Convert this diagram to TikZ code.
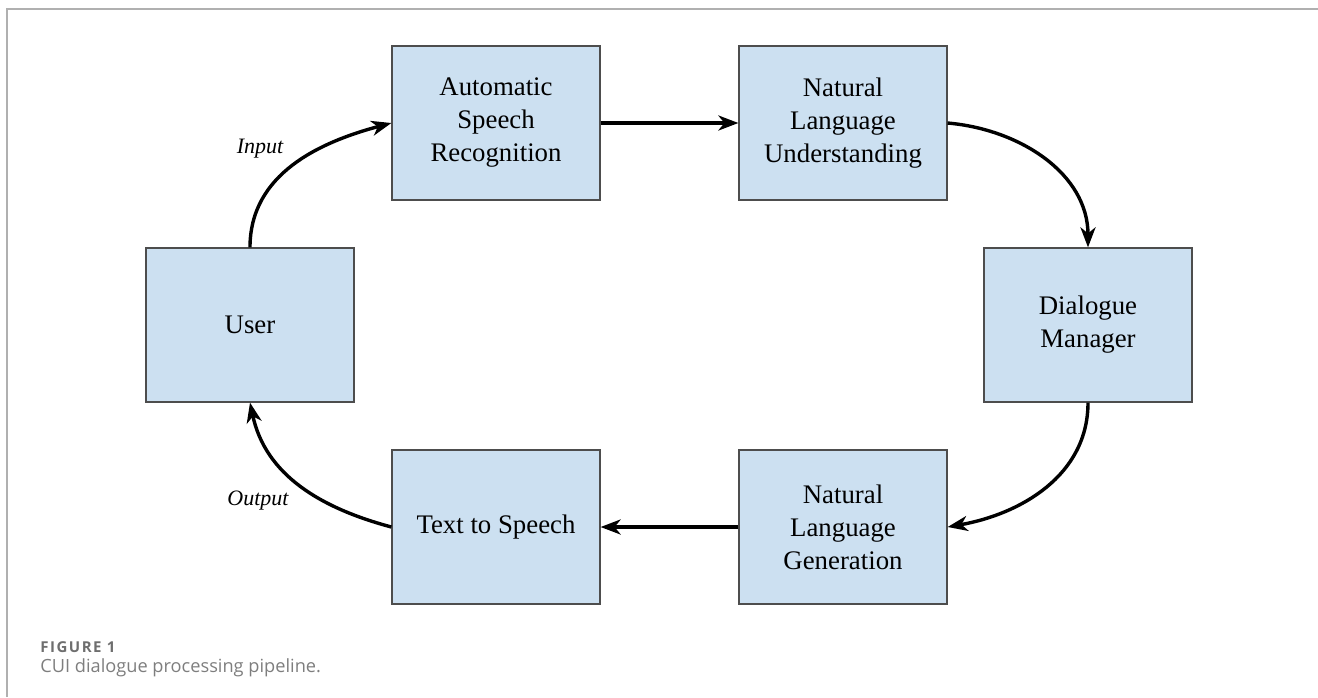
\documentclass[tikz,border=0pt]{standalone}
\usepackage{fontspec}
\setmainfont{Liberation Serif}
\newfontfamily\capfont{Open Sans}
\newfontfamily\capbold[LetterSpace=10]{Open Sans}
\usetikzlibrary{arrows.meta}
\definecolor{boxfill}{HTML}{CCE0F1}
\definecolor{boxline}{HTML}{4D4D4D}
\definecolor{framegray}{HTML}{B0B0B0}
\definecolor{capgray}{HTML}{6E6E6E}
\definecolor{captext}{HTML}{7E7E7E}
\tikzset{
  stagebox/.style={rectangle, draw=boxline, line width=0.6pt, fill=boxfill,
    minimum width=104pt, minimum height=77pt, align=center, inner sep=2pt,
    font=\fontsize{13.4}{16.5}\selectfont},
  flow/.style={line width=1.7pt, -{Stealth[length=10pt,width=7.5pt,inset=3pt]}},
  flowlabel/.style={font=\fontsize{11}{13}\selectfont\itshape, inner sep=0pt},
}
\begin{document}
\begin{tikzpicture}[x=0.5pt,y=-0.5pt]
\useasboundingbox (0,0) rectangle (1318,697);
% panel frame (top and left edges)
\draw[framegray, line width=1pt] (7,697) -- (7,9) -- (1318,9);

% pipeline stages
\node[stagebox] (user) at (250,325) {User};
\node[stagebox] (asr)  at (496,123) {Automatic\\Speech\\Recognition};
\node[stagebox] (nlu)  at (843,123) {Natural\\Language\\Understanding};
\node[stagebox] (dm)   at (1088,325) {Dialogue\\Manager};
\node[stagebox] (nlg)  at (843,527) {Natural\\Language\\Generation};
\node[stagebox] (tts)  at (496,527) {Text to Speech};

% connectors
\draw[flow] (user.north) to[out=90,in=195] (asr.west);
\draw[flow] (asr.east) -- (nlu.west);
\draw[flow] (nlu.east) to[out=-5,in=90] (dm.north);
\draw[flow] (dm.south) to[out=-90,in=10] (nlg.east);
\draw[flow] (nlg.west) -- (tts.east);
\draw[flow] (tts.west) to[out=165,in=-78] (user.south);

% connector labels
\node[flowlabel] (inlab)  at (260,149) {Input};
\node[flowlabel] (outlab) at (258,501) {Output};

% caption
\node[anchor=base west, inner sep=0pt, text=capgray, font=\capbold\bfseries\fontsize{7.5}{9}\selectfont] (figno) at (40,652) {FIGURE 1};
\node[anchor=base west, inner sep=0pt, text=captext, font=\capfont\fontsize{9.1}{11}\selectfont] (captxt) at (40,672) {CUI dialogue processing pipeline.};
\end{tikzpicture}
\end{document}
